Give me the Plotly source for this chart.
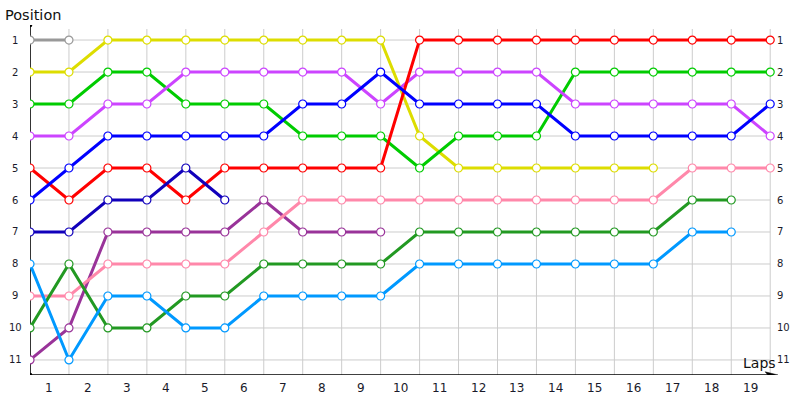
import plotly.graph_objects as go

# x index 0 = start, 1..19 = end of each lap
lap_index = list(range(20))
lap_labels = [str(i) for i in range(1, 20)]
positions = list(range(1, 12))

N = None
gray = [1, 1] + [N] * 18
yellow = [2, 2, 1, 1, 1, 1, 1, 1, 1, 1, 4, 5, 5, 5, 5, 5, 5, N, N, N]
green = [3, 3, 2, 2, 3, 3, 3, 4, 4, 4, 5, 4, 4, 4, 2, 2, 2, 2, 2, 2]
magenta = [4, 4, 3, 3, 2, 2, 2, 2, 2, 3, 2, 2, 2, 2, 3, 3, 3, 3, 3, 4]
blue = [6, 5, 4, 4, 4, 4, 4, 3, 3, 2, 3, 3, 3, 3, 4, 4, 4, 4, 4, 3]
red = [5, 6, 5, 5, 6, 5, 5, 5, 5, 5, 1, 1, 1, 1, 1, 1, 1, 1, 1, 1]
darkblue = [7, 7, 6, 6, 5, 6] + [N] * 14
purple = [11, 10, 7, 7, 7, 7, 6, 7, 7, 7] + [N] * 10
pink = [9, 9, 8, 8, 8, 8, 7, 6, 6, 6, 6, 6, 6, 6, 6, 6, 6, 5, 5, 5]
darkgreen = [10, 8, 10, 10, 9, 9, 8, 8, 8, 8, 7, 7, 7, 7, 7, 7, 7, 6, 6, N]
lightblue = [8, 11, 9, 9, 10, 10, 9, 9, 9, 9, 8, 8, 8, 8, 8, 8, 8, 7, 7, N]

series = [
    ("gray", gray, "#999999"),
    ("yellow", yellow, "#dddd00"),
    ("green", green, "#00cc00"),
    ("magenta", magenta, "#cc44ff"),
    ("red", red, "#ff0000"),
    ("blue", blue, "#0000ff"),
    ("darkblue", darkblue, "#1100bb"),
    ("purple", purple, "#993399"),
    ("pink", pink, "#ff88aa"),
    ("darkgreen", darkgreen, "#229922"),
    ("lightblue", lightblue, "#0099ff"),
]

XMAX = 19.2
YTOP = 0.53
YBOT = 11.47
FONT = "DejaVu Sans"

fig = go.Figure()

for name, vals, col in series:
    fig.add_trace(go.Scatter(
        x=lap_index, y=vals, mode="lines+markers", name=name,
        line=dict(color=col, width=3),
        marker=dict(symbol="circle", size=8, color="white",
                    line=dict(color=col, width=1.2)),
        connectgaps=False, showlegend=False, hoverinfo="skip",
    ))

shapes = []
grid_col = "#cccccc"
for i in lap_index[1:]:
    shapes.append(dict(type="line", xref="x", yref="y", x0=i, x1=i,
                       y0=0.655, y1=YBOT, line=dict(color=grid_col, width=1),
                       layer="below"))
for p in positions:
    shapes.append(dict(type="line", xref="x", yref="y", x0=0, x1=lap_index[-1],
                       y0=p, y1=p, line=dict(color=grid_col, width=1),
                       layer="below"))
# axes
shapes.append(dict(type="line", xref="x", yref="y", x0=0, x1=0, y0=YTOP, y1=YBOT,
                   line=dict(color="black", width=1.6), layer="below"))
shapes.append(dict(type="line", xref="x", yref="y", x0=0, x1=XMAX - 0.1, y0=YBOT, y1=YBOT,
                   line=dict(color="black", width=1.6)))
# arrow head on x axis
shapes.append(dict(type="path", xref="x", yref="y",
                   path=f"M {XMAX} {YBOT} L {XMAX-0.33} {YBOT-0.1} L {XMAX-0.26} {YBOT} L {XMAX-0.33} {YBOT+0.1} Z",
                   fillcolor="black", line=dict(color="black", width=0.5)))
# end dots on y axis
for yy in (YTOP, YBOT):
    shapes.append(dict(type="circle", xref="x", yref="y",
                       x0=-0.06, x1=0.06, y0=yy - 0.07, y1=yy + 0.07,
                       fillcolor="black", line=dict(color="black", width=0)))

annotations = []
for p in positions:
    annotations.append(dict(xref="paper", yref="y", x=-0.02, y=p, text=str(p),
                            showarrow=False, xanchor="center", yanchor="middle",
                            font=dict(family=FONT, size=10, color="#1a1a2a")))
    annotations.append(dict(xref="paper", yref="y", x=0.9965, y=p, text=str(p),
                            showarrow=False, xanchor="left", yanchor="middle",
                            font=dict(family=FONT, size=10, color="#1a1a2a")))
for i, lab in enumerate(lap_labels):
    annotations.append(dict(xref="x", yref="paper", x=i + 0.5, y=-0.037, text=lab,
                            showarrow=False, xanchor="center", yanchor="middle",
                            font=dict(family=FONT, size=12, color="#1a1a2a")))
annotations.append(dict(xref="paper", yref="paper", x=-0.036, y=1.0286, text="Position",
                        showarrow=False, xanchor="left", yanchor="middle",
                        font=dict(family=FONT, size=14.5, color="#111111")))
annotations.append(dict(xref="paper", yref="paper", x=1.0, y=0.034, text="Laps",
                        showarrow=False, xanchor="right", yanchor="middle",
                        font=dict(family=FONT, size=14, color="#111111")))

fig.update_layout(
    width=800, height=400,
    margin=dict(l=30, r=22, t=25, b=25, pad=0, autoexpand=False),
    paper_bgcolor="white", plot_bgcolor="white",
    xaxis=dict(range=[0, XMAX], showgrid=False, zeroline=False, showline=False,
               showticklabels=False, ticks="", automargin=False),
    yaxis=dict(range=[YBOT, YTOP], showgrid=False, zeroline=False, showline=False,
               showticklabels=False, ticks="", automargin=False),
    shapes=shapes, annotations=annotations,
)

fig.write_html("out.html", config={"displayModeBar": False},
               post_script="document.body.style.margin='0';document.body.style.overflow='hidden';")
